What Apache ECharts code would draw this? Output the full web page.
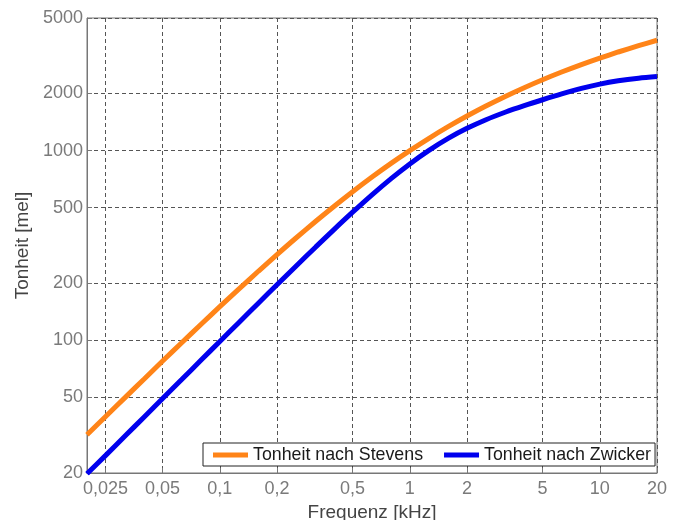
<!DOCTYPE html>
<html>
<head>
<meta charset="utf-8">
<script src="https://cdn.jsdelivr.net/npm/echarts@6/dist/echarts.min.js"></script>
<style>
html,body{margin:0;padding:0;background:#fff;}
#chart{width:680px;height:520px;}
</style>
</head>
<body>
<div id="chart"></div>
<script>
// Frequencies in kHz
const freqs = [0.02, 0.025, 0.032, 0.04, 0.05, 0.063, 0.08, 0.1, 0.125, 0.16, 0.2, 0.25, 0.32, 0.4, 0.5, 0.63, 0.8,
               1, 1.25, 1.6, 2, 2.5, 3.2, 4, 5, 6.3, 8, 10, 12.5, 16, 20];
// Tonheit nach Stevens [mel]
const stevens = [31.8, 39.6, 50.4, 62.6, 77.8, 97.1, 122, 150.5, 185.2, 232, 283.2, 344.2, 424.3, 509.4, 607.4, 723.4, 858.9,
                 1000, 1154.6, 1340.7, 1521.4, 1712.8, 1935.8, 2146.1, 2363.5, 2595, 2840, 3073.2, 3309.9, 3574.9, 3816.9];
// Tonheit nach Zwicker [mel]
const zwicker = [19.8, 24.7, 31.6, 39.5, 49.4, 62.2, 79, 98.7, 123.2, 157.5, 196.4, 244.5, 310.8, 384.7, 473.6, 583, 714.2,
                 851.1, 997.4, 1163.3, 1310.5, 1450.9, 1597.9, 1725.9, 1853.9, 1989.4, 2127.5, 2242.4, 2334.5, 2409.4, 2457.5];
// Tick values
const xTicks = [0.025, 0.05, 0.1, 0.2, 0.5, 1, 2, 5, 10, 20];
const yTicks = [20, 50, 100, 200, 500, 1000, 2000, 5000];

const seriesNames = ['Tonheit nach Stevens', 'Tonheit nach Zwicker'];

const font = 'Liberation Sans, Arial, sans-serif';
const chart = echarts.init(document.getElementById('chart'), null, {renderer: 'canvas'});
const fmt = v => String(v).replace('.', ',');

chart.setOption({
  backgroundColor: '#fff',
  animation: false,
  grid: {left: 87, right: 23, top: 18, bottom: 47, outerBoundsMode: 'none', containLabel: false,
         show: true, borderColor: '#777', borderWidth: 1},
  legend: {
    left: 203, top: 443,
    data: seriesNames,
    icon: 'rect', itemWidth: 35, itemHeight: 5, itemGap: 21,
    padding: [3, 4, 2, 10],
    borderColor: '#222', borderWidth: 1, backgroundColor: '#fff',
    textStyle: {fontFamily: font, fontSize: 17.8, color: '#1a1a1a'}
  },
  xAxis: {
    type: 'log', logBase: 10, min: 0.02, max: 20,
    name: 'Frequenz [kHz]', nameLocation: 'middle', nameGap: 25,
    nameTextStyle: {fontFamily: font, fontSize: 19, color: '#444'},
    axisLine: {show: true, lineStyle: {color: '#777'}},
    axisTick: {show: true, inside: true, length: 5, customValues: xTicks, lineStyle: {color: '#777'}},
    minorTick: {show: false},
    axisLabel: {customValues: xTicks, formatter: fmt, fontFamily: font, fontSize: 18, color: '#7a7a7a', margin: 7},
    splitLine: {show: true, lineStyle: {color: '#555', type: [4, 3], width: 1}}
  },
  yAxis: {
    type: 'log', logBase: 10, min: 20, max: 5000,
    name: 'Tonheit [mel]', nameLocation: 'middle', nameGap: 50,
    nameTextStyle: {fontFamily: font, fontSize: 19, color: '#444'},
    axisLine: {show: true, lineStyle: {color: '#777'}},
    axisTick: {show: true, inside: true, length: 5, customValues: yTicks, lineStyle: {color: '#777'}},
    minorTick: {show: false},
    axisLabel: {customValues: yTicks, formatter: fmt, fontFamily: font, fontSize: 18, color: '#7a7a7a', margin: 4},
    splitLine: {show: true, lineStyle: {color: '#555', type: [4, 3], width: 1}}
  },
  series: [
    {
      name: seriesNames[0], type: 'line', smooth: 0.3, showSymbol: false,
      data: freqs.map((f, i) => [f, stevens[i]]),
      lineStyle: {color: '#ff8418', width: 5}, itemStyle: {color: '#ff8418'}
    },
    {
      name: seriesNames[1], type: 'line', smooth: 0.3, showSymbol: false,
      data: freqs.map((f, i) => [f, zwicker[i]]),
      lineStyle: {color: '#0000ee', width: 5}, itemStyle: {color: '#0000ee'}
    }
  ]
});
</script>
</body>
</html>
